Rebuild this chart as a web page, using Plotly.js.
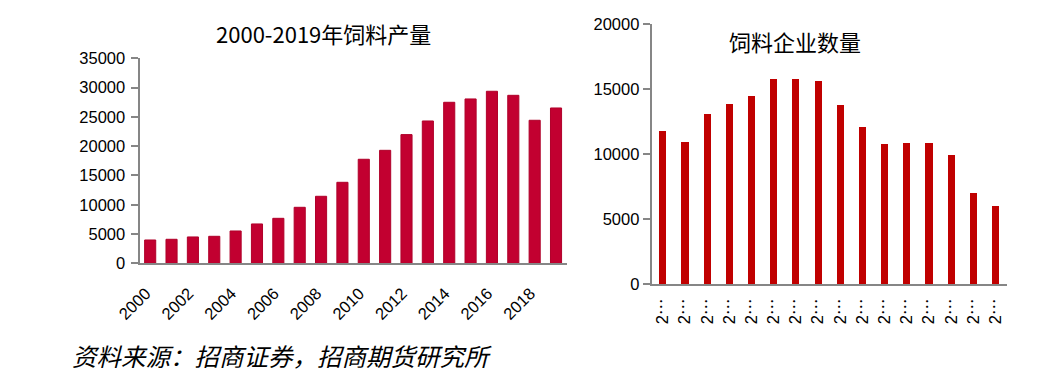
<!DOCTYPE html>
<html>
<head>
<meta charset="utf-8">
<script src="https://cdn.plot.ly/plotly-3.0.1.min.js"></script>
<style>html,body{margin:0;padding:0;background:#fff;}#chart{width:1037px;height:375px;}</style>
</head>
<body>
<div id="chart"></div>
<script>
// ---- data ----
const leftTitle = "2000-2019年饲料产量";
const rightTitle = "饲料企业数量";
const sourceText = "资料来源：招商证券，招商期货研究所";

const outputYears = [2000,2001,2002,2003,2004,2005,2006,2007,2008,2009,2010,2011,2012,2013,2014,2015,2016,2017,2018,2019];
const outputValues = [3980,4100,4500,4610,5520,6720,7680,9560,11440,13830,17760,19290,21970,24300,27490,28060,29370,28680,24420,26520];
const outputTickLabels = ["2000","2002","2004","2006","2008","2010","2012","2014","2016","2018"];

const firmYears = [2003,2004,2005,2006,2007,2008,2009,2010,2011,2012,2013,2014,2015,2016,2017,2018];
const firmValues = [11800,10950,13100,13860,14480,15790,15790,15640,13790,12090,10780,10860,10860,9940,7010,6010];
const firmTickLabels = ["2…","2…","2…","2…","2…","2…","2…","2…","2…","2…","2…","2…","2…","2…","2…","2…"];

// ---- derived ----
const leftLabelVals = outputTickLabels.map(v => Number(v) - 0.2);
const leftBoundaries = [];
for (let i = 0; i <= outputYears.length; i += 2) leftBoundaries.push(outputYears[0] - 0.5 + i);
const firmIdx = firmYears.map((_, i) => i);
const rightBoundaries = [];
for (let i = 0; i <= firmYears.length; i++) rightBoundaries.push(i - 0.5);
const firmTickText = firmTickLabels.map(s => s.slice(0, 1) + "<span style='font-family:Noto Sans CJK SC'>" + s.slice(1) + "</span>");

const axisGray = "#868686";
const tickFont = {family: "Liberation Sans, Arial, sans-serif", size: 16.5, color: "#000"};

const traces = [
  {type: "bar", x: outputYears, y: outputValues, xaxis: "x", yaxis: "y",
   width: 0.52, marker: {color: "#C20030", line: {color: "#B0002A", width: 1}}, hoverinfo: "none"},
  {type: "bar", x: firmIdx, y: firmValues, xaxis: "x2", yaxis: "y2",
   width: 0.32, marker: {color: "#C00000"}, hoverinfo: "none"}
];

const L = [139.5/1037, 566.7/1037];
const R = [651.7/1037, 1006.7/1037];
const layout = {
  width: 1037, height: 375,
  margin: {l: 0, r: 0, t: 0, b: 0},
  paper_bgcolor: "#fff", plot_bgcolor: "#fff",
  showlegend: false,
  bargap: 0,
  xaxis: {domain: L, anchor: "y", range: [outputYears[0]-0.5, outputYears[outputYears.length-1]+0.5],
          tickmode: "array", tickvals: leftLabelVals, ticktext: outputTickLabels, tickangle: -45,
          ticks: "", showline: true, linecolor: axisGray, linewidth: 2, showgrid: false, zeroline: false,
          tickfont: tickFont, ticklabelstandoff: 12, fixedrange: true},
  xaxis3: {domain: L, anchor: "y", overlaying: "x", range: [outputYears[0]-0.5, outputYears[outputYears.length-1]+0.5],
          tickmode: "array", tickvals: leftBoundaries, showticklabels: false,
          ticks: "outside", ticklen: 7, tickwidth: 2, tickcolor: axisGray, showline: false, showgrid: false, zeroline: false},
  yaxis: {domain: [1-263.3/375, 1-58.3/375], anchor: "x", range: [0, 35000], dtick: 5000, tickformat: "d",
          ticks: "outside", ticklen: 7, tickwidth: 2, tickcolor: axisGray,
          showline: true, linecolor: axisGray, linewidth: 2, showgrid: false, zeroline: false,
          tickfont: tickFont, ticklabelstandoff: 2},
  xaxis2: {domain: R, anchor: "y2", range: [-0.5, firmYears.length-0.5],
          tickmode: "array", tickvals: firmIdx, ticktext: firmTickText, tickangle: -90,
          ticks: "", showline: true, linecolor: axisGray, linewidth: 2, showgrid: false, zeroline: false,
          tickfont: tickFont, ticklabelstandoff: 6},
  xaxis4: {domain: R, anchor: "y2", overlaying: "x2", range: [-0.5, firmYears.length-0.5],
          tickmode: "array", tickvals: rightBoundaries, showticklabels: false,
          ticks: "outside", ticklen: 7, tickwidth: 2, tickcolor: axisGray, showline: false, showgrid: false, zeroline: false},
  yaxis2: {domain: [1-284/375, 1-24.3/375], anchor: "x2", range: [0, 20000], dtick: 5000, tickformat: "d",
          ticks: "outside", ticklen: 7, tickwidth: 2, tickcolor: axisGray,
          showline: true, linecolor: axisGray, linewidth: 2, showgrid: false, zeroline: false,
          tickfont: tickFont},
  annotations: [
    {text: leftTitle, xref: "paper", yref: "paper", x: 323/1037, y: 1-33/375, xanchor: "center", yanchor: "middle",
     showarrow: false, font: {family: "Noto Sans CJK SC, sans-serif", size: 22, color: "#000"}},
    {text: rightTitle, xref: "paper", yref: "paper", x: 795/1037, y: 1-41/375, xanchor: "center", yanchor: "middle",
     showarrow: false, font: {family: "Noto Sans CJK SC, sans-serif", size: 22, color: "#000"}},
    {text: "<i>" + sourceText + "</i>", xref: "paper", yref: "paper", x: 70/1037, y: 1-355/375, xanchor: "left", yanchor: "middle",
     showarrow: false, font: {family: "Noto Sans CJK SC, sans-serif", size: 24.5, color: "#000"}}
  ]
};

Plotly.newPlot("chart", traces, layout, {staticPlot: true, displayModeBar: false});
</script>
</body>
</html>
